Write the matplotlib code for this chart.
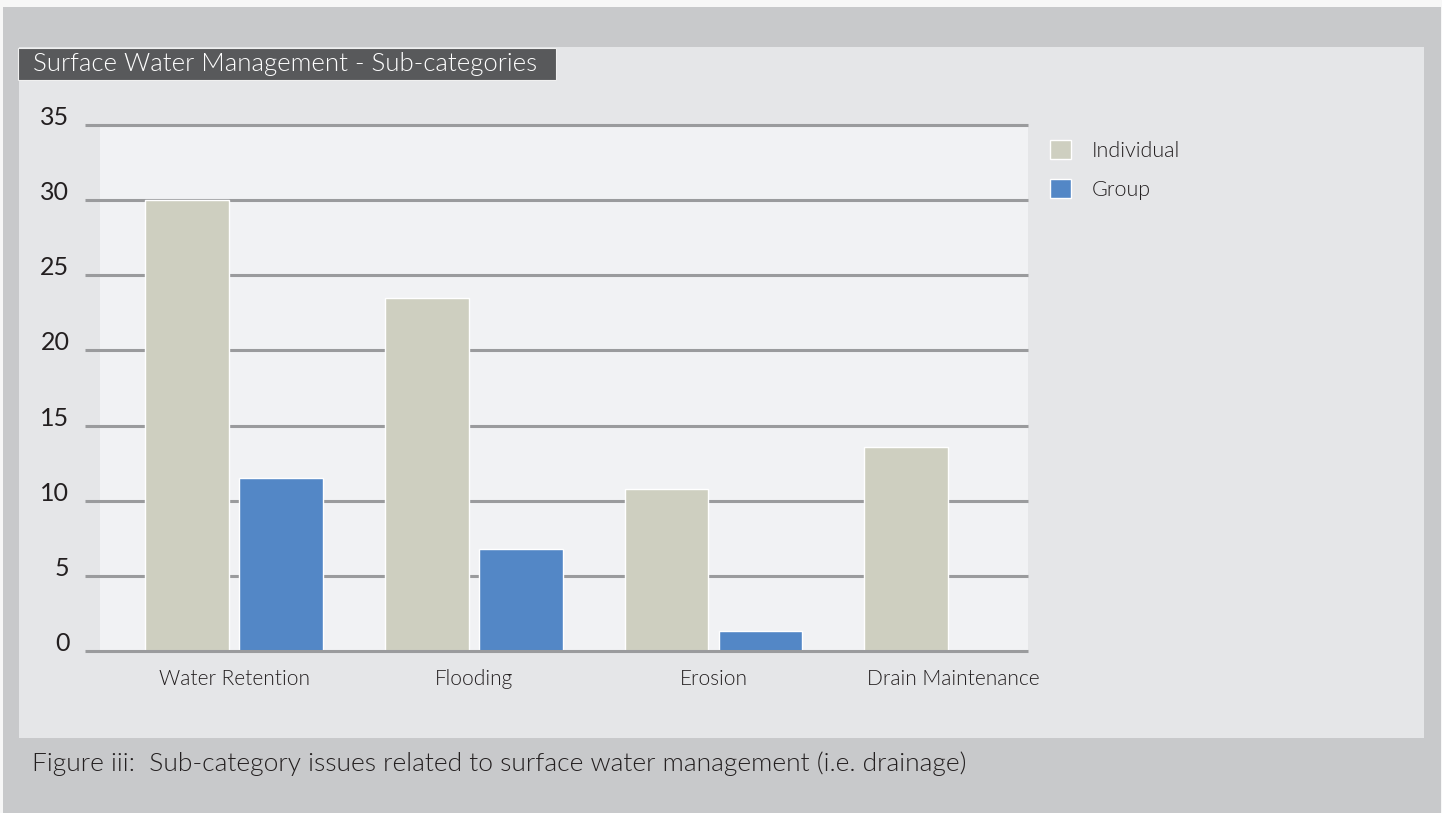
import matplotlib
matplotlib.use("Agg")
import matplotlib.pyplot as plt
from matplotlib.patches import Rectangle
import numpy as np

# Sub-category counts, individual vs group submissions
categories = ["Water Retention", "Flooding", "Erosion", "Drain Maintenance"]
individual = [30.0, 23.5, 10.8, 13.6]
group = [11.5, 6.8, 1.3, 0]
series_names = ["Individual", "Group"]
y_ticks = [0, 5, 10, 15, 20, 25, 30, 35]

title = "Surface Water Management - Sub-categories"
caption = "Figure iii:  Sub-category issues related to surface water management (i.e. drainage)"

W, H = 1442, 813
OUTER = "#c8c9cb"
PANEL = "#e5e6e8"
PLOT_BG = "#f1f2f4"
TITLE_BG = "#58595b"
IND_COLOR = "#cecfc0"
GRP_COLOR = "#5387c6"
GRID = "#9a9b9d"
TEXT = "#231f20"

plt.rcParams["font.family"] = ["Lato", "DejaVu Sans"]
plt.rcParams["font.weight"] = 300


def fig_box(x0, y0, x1, y1):
    # pixel box (top-left origin) -> figure fraction rect
    return (x0 / W, 1 - y1 / H, (x1 - x0) / W, (y1 - y0) / H)


fig = plt.figure(figsize=(W / 100, H / 100), dpi=100, facecolor="#f7f7f7")

# background frames, kept behind the axes
for (x0, y0, x1, y1), col in [((3, 7, 1441, 813), OUTER),
                              ((19, 47, 1424, 738), PANEL),
                              ((18, 48, 556, 80), TITLE_BG)]:
    l, b, w, h = fig_box(x0, y0, x1, y1)
    ec = "#f0f0f0" if col == TITLE_BG else "none"
    fig.patches.append(Rectangle((l, b), w, h, transform=fig.transFigure,
                                 facecolor=col, edgecolor=ec, lw=0.8, zorder=-10))

fig.text(33 / W, 1 - 64 / H, title, color="white", fontsize=18.5,
         va="center", ha="left")
fig.text(32 / W, 1 - 764 / H, caption, color=TEXT, fontsize=19,
         va="center", ha="left")

ax = fig.add_axes(fig_box(100, 125, 1028, 651))
ax.set_zorder(1)
ax.set_facecolor(PLOT_BG)
for s in ax.spines.values():
    s.set_visible(False)

x = np.arange(len(categories))
bar_w = 0.35
off = 0.196
b1 = ax.bar(x - off, individual, bar_w, color=IND_COLOR, edgecolor="white",
            linewidth=1, zorder=2, label=series_names[0])
b2 = ax.bar(x + off, group, bar_w, color=GRP_COLOR, edgecolor="white",
            linewidth=1, zorder=2, label=series_names[1])

ax.set_xlim(-0.559, 3.312)
ax.set_ylim(0, 35)

# gridlines run a little past the left edge of the plot area
ax.hlines(y_ticks[1:], -15 / 928, 1, transform=ax.get_yaxis_transform(),
          colors=GRID, linewidth=2.2, zorder=1, clip_on=False)
ax.hlines([0], -15 / 928, 1, transform=ax.get_yaxis_transform(),
          colors=GRID, linewidth=2.2, zorder=3, clip_on=False)

ax.set_yticks(y_ticks)
ax.set_yticklabels([str(v) for v in y_ticks], fontweight="normal")
for lab in ax.get_yticklabels():
    lab.set_va("baseline")
ax.tick_params(axis="y", length=0, pad=22, labelsize=18, labelcolor=TEXT)

ax.set_xticks(x)
ax.set_xticklabels(categories)
ax.tick_params(axis="x", length=0, pad=13, labelsize=15, labelcolor=TEXT)

fig.legend(handles=[b1, b2], labels=series_names,
           loc="upper left", bbox_to_anchor=(1031 / W, 1 - 121 / H),
           frameon=False, fontsize=15.5, handlelength=0.95, handleheight=0.95,
           handletextpad=0.95, labelspacing=0.85, labelcolor=TEXT)

fig.savefig("out.png", dpi=100, facecolor=fig.get_facecolor())
